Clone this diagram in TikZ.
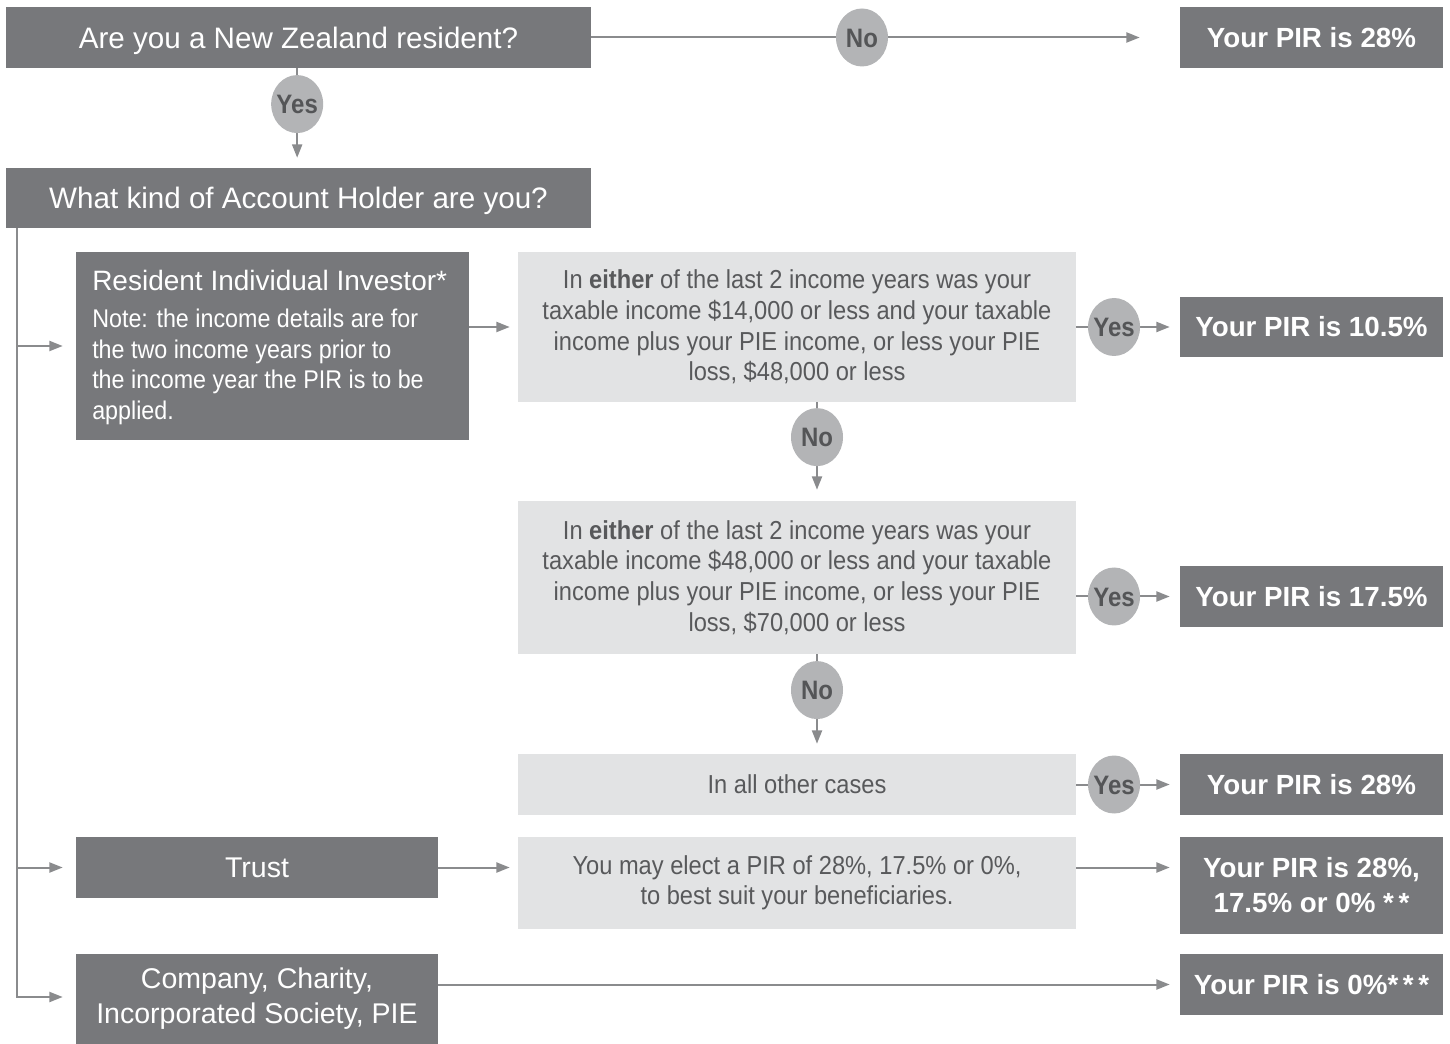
\documentclass[tikz,border=0pt]{standalone}
\usepackage{fontspec}
\setmainfont{Liberation Sans}
\newfontfamily\lightf[FakeStretch=0.91]{Liberation Sans}
\newfontfamily\condf[FakeStretch=0.9]{Liberation Sans}
\usetikzlibrary{arrows.meta,shapes.geometric}
\definecolor{dkbox}{HTML}{77787B}
\definecolor{ltbox}{HTML}{E2E3E4}
\definecolor{circ}{HTML}{B3B4B6}
\definecolor{lnc}{HTML}{8A8B8D}
\definecolor{lbltext}{HTML}{545557}
\definecolor{lttext}{HTML}{58595B}
\newcommand{\lab}[1]{\makebox[0pt]{\raisebox{-.36em}[0pt][0pt]{#1}}}
\begin{document}
\begin{tikzpicture}[x=0.75pt,y=-0.75pt,
  sz/.style 2 args={minimum width={#1*0.75pt}, minimum height={#2*0.75pt}},
  dark/.style={rectangle, fill=dkbox, text=white, inner sep=0pt, align=center},
  light/.style={rectangle, fill=ltbox, text=lttext, inner sep=0pt, align=center,
    font=\lightf\fontsize{19.5}{22.9}\selectfont},
  qfont/.style={font=\fontsize{22.2}{26}\selectfont, text depth=0pt},
  rfont/.style={font=\bfseries\fontsize{20.8}{26}\selectfont},
  tfont/.style={font=\fontsize{21.4}{26.3}\selectfont},
  lbl/.style={ellipse, fill=circ, inner sep=0pt, sz={52}{58}, text=lbltext,
    font=\condf\bfseries\fontsize{20}{22}\selectfont},
  conn/.style={draw=lnc, line width=1.5pt, -{Triangle[length=10pt,width=7.5pt]}},
  plain/.style={draw=lnc, line width=1.5pt}
]
\useasboundingbox (0,0) rectangle (1450,1044);

% boxes
\node[dark, qfont, sz={585}{61}] (q0) at (298.5,37.5) {Are you a New Zealand resident?};
\node[dark, rfont, sz={263}{61}] (r0) at (1311.5,37.5) {Your PIR is 28\%};
\node[dark, qfont, sz={585}{60}] (q1) at (298.5,198) {What kind of Account Holder are you?};
\node[dark, sz={393}{188}] (res) at (272.5,346) {};
\node[text=white, anchor=base west, inner sep=0pt, font=\fontsize{21}{24}\selectfont] (resh) at (92,291) {Resident Individual Investor*};
\node[text=white, anchor=west, inner sep=0pt, align=left, font=\lightf\fontsize{19.2}{22.9}\selectfont] (resn) at (92,367)
  {Note: the income details are for\\the two income years prior to\\the income year the PIR is to be\\applied.};
\node[light, sz={558}{150}] (c1) at (797,327)
  {In \textbf{either} of the last 2 income years was your\\taxable income \$14,000 or less and your taxable\\income plus your PIE income, or less your PIE\\loss, \$48,000 or less};
\node[dark, rfont, sz={263}{60}] (r1) at (1311.5,327) {Your PIR is 10.5\%};
\node[light, sz={558}{153}] (c2) at (797,577.5)
  {In \textbf{either} of the last 2 income years was your\\taxable income \$48,000 or less and your taxable\\income plus your PIE income, or less your PIE\\loss, \$70,000 or less};
\node[dark, rfont, sz={263}{61}] (r2) at (1311.5,596.5) {Your PIR is 17.5\%};
\node[light, sz={558}{61}] (c3) at (797,784.5) {In all other cases};
\node[dark, rfont, sz={263}{61}] (r3) at (1311.5,784.5) {Your PIR is 28\%};
\node[dark, tfont, sz={362}{61}] (trust) at (257,867.5) {Trust};
\node[light, sz={558}{92}] (ct) at (797,883)
  {You may elect a PIR of 28\%, 17.5\% or 0\%,\\to best suit your beneficiaries.};
\node[dark, sz={263}{97}, font=\bfseries\fontsize{20.8}{26.3}\selectfont] (rt) at (1311.5,885.5)
  {Your PIR is 28\%,\\17.5\% or 0\% *\,*};
\node[dark, tfont, sz={362}{90}] (comp) at (257,999) {Company, Charity,\\Incorporated Society, PIE};
\node[dark, rfont, sz={263}{61}] (rc) at (1311.5,984.5) {Your PIR is 0\%*\,*\,*};

% trunk
\coordinate (tt) at (q1.south -| 17,0);
\coordinate (tb) at (17,997);

% connectors
\draw[conn, shorten >=30pt] (q0.east) -- node[lbl, pos=0.46] {\lab{No}} (r0.west);
\draw[conn, shorten >=7.5pt] ([xshift=-1pt]q0.south) -- node[lbl, pos=0.36] {\lab{Yes}} ([xshift=-1pt]q1.north);
\draw[plain] (tt) -- ([yshift=-0.75pt]tb);
\draw[conn, shorten >=9.75pt] (tt |- res.west) -- (res.west);
\draw[conn, shorten >=9.75pt] (tt |- trust.west) -- (trust.west);
\draw[conn, shorten >=9.75pt] (tb) -- (tb -| comp.west);
\draw[conn, shorten >=6pt] (res.east |- c1.west) -- (c1.west);
\draw[conn, shorten >=7.5pt] (c1.east) -- node[lbl, pos=0.365] {\lab{Yes}} (r1.west);
\draw[conn, shorten >=8.25pt] ([xshift=15pt]c1.south) -- node[lbl, pos=0.354] {\lab{No}} ([xshift=15pt]c2.north);
\draw[conn, shorten >=7.5pt] (c2.east |- r2.west) -- node[lbl, pos=0.365] {\lab{Yes}} (r2.west);
\draw[conn, shorten >=7.5pt] ([xshift=15pt]c2.south) -- node[lbl, pos=0.36] {\lab{No}} ([xshift=15pt]c3.north);
\draw[conn, shorten >=7.5pt] (c3.east) -- node[lbl, pos=0.365] {\lab{Yes}} (r3.west);
\draw[conn, shorten >=6pt] (trust.east) -- (ct.west |- trust.east);
\draw[conn, shorten >=7.5pt] (ct.east |- trust.east) -- (rt.west |- trust.east);
\draw[conn, shorten >=7.5pt] (comp.east |- rc.west) -- (rc.west);
\end{tikzpicture}
\end{document}
